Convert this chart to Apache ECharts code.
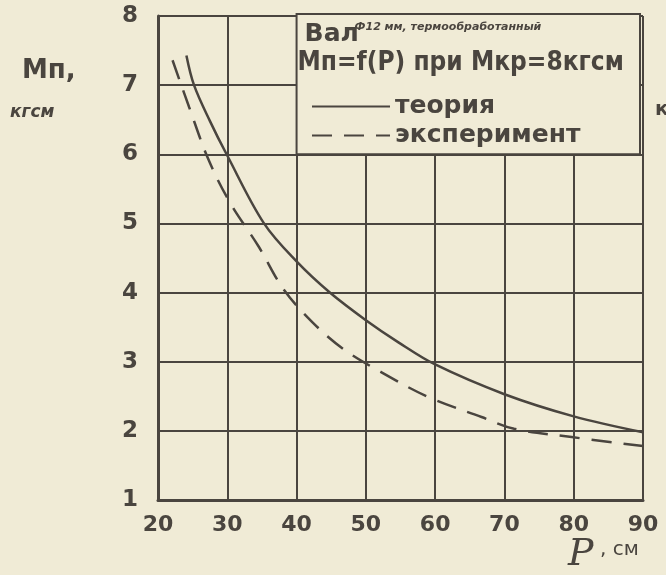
<!DOCTYPE html>
<html>
<head>
<meta charset="utf-8">
<script src="https://cdn.jsdelivr.net/npm/echarts@6/dist/echarts.min.js"></script>
<style>
  html, body { margin: 0; background: #f0ebd6; }
  #chart { width: 666px; height: 575px; }
</style>
</head>
<body>
<div id="chart"></div>
<script>
// значения
const xTicks = [20, 30, 40, 50, 60, 70, 80, 90];
const yTicks = [1, 2, 3, 4, 5, 6, 7, 8];
const theoryP = [24.1, 25.2, 27.5, 29.9, 35.3, 40, 44.8, 50, 54.7, 60, 70, 80, 90];
const theoryM = [7.43, 7.0, 6.48, 6.0, 5.0, 4.45, 4.0, 3.6, 3.28, 2.96, 2.53, 2.21, 1.98];
const expP = [22.1, 24.5, 27.3, 30.4, 34.5, 38.1, 42.3, 46.8, 52.2, 59, 66.7, 71.4, 79.7, 90];
const expM = [7.36, 6.68, 5.92, 5.30, 4.67, 4.05, 3.57, 3.18, 2.85, 2.49, 2.20, 2.03, 1.91, 1.78];

const ink = '#4a453f';
const paper = '#f0ebd6';
const font = 'DejaVu Sans';

var dom = document.getElementById('chart');
var myChart = echarts.init(dom, null, { renderer: 'canvas' });

const option = {
  backgroundColor: paper,
  animation: false,
  color: [ink, ink],
  textStyle: { fontFamily: font, color: ink },
  grid: { left: 158, right: 23, top: 16, bottom: 75 },
  xAxis: {
    type: 'value',
    min: xTicks[0], max: xTicks[xTicks.length - 1], interval: 10,
    axisLine: { lineStyle: { color: ink, width: 3 } },
    axisTick: { show: false },
    axisLabel: { color: ink, fontSize: 22, fontWeight: 'bold', margin: 14 },
    splitLine: { lineStyle: { color: ink, width: 2 } }
  },
  yAxis: {
    type: 'value',
    min: yTicks[0], max: yTicks[yTicks.length - 1], interval: 1,
    axisLine: { show: true, lineStyle: { color: ink, width: 3 } },
    axisTick: { show: false },
    axisLabel: { color: ink, fontSize: 23, fontWeight: 'bold', margin: 20 },
    splitLine: { lineStyle: { color: ink, width: 2 } }
  },
  legend: {
    orient: 'vertical',
    left: 306, top: 89,
    itemWidth: 78, itemHeight: 14, itemGap: 4,
    itemStyle: { opacity: 0 },
    textStyle: { color: ink, fontSize: 25, fontWeight: 'bold', fontFamily: font },
    data: ['теория', 'эксперимент'],
    z: 20
  },
  series: [
    {
      name: 'теория',
      type: 'line',
      smooth: 0.35,
      symbol: 'none',
      data: theoryP.map((p, i) => [p, theoryM[i]]),
      lineStyle: { color: ink, width: 2.5 }
    },
    {
      name: 'эксперимент',
      type: 'line',
      smooth: 0.35,
      symbol: 'none',
      data: expP.map((p, i) => [p, expM[i]]),
      lineStyle: { color: ink, width: 2.5, type: [20, 12] }
    }
  ]
};

myChart.setOption(option);

// рамка с подписью поверх сетки в правом верхнем углу
const tl = myChart.convertToPixel({ gridIndex: 0 }, [40, 8]);
const br = myChart.convertToPixel({ gridIndex: 0 }, [90, 6]);

myChart.setOption({
  graphic: [
    {
      type: 'rect', z: 10,
      shape: { x: tl[0], y: tl[1] - 2, width: br[0] - tl[0] - 3, height: br[1] - tl[1] + 2 },
      style: { fill: paper, stroke: ink, lineWidth: 2 }
    },
    {
      type: 'text', z: 11, left: tl[0] + 8, top: 22,
      style: { text: 'Вал', font: 'bold 25px "DejaVu Sans"', fill: ink }
    },
    {
      type: 'text', z: 11, left: tl[0] + 58, top: 22,
      style: { text: 'Ф12 мм, термообработанный', font: 'italic bold 11px "DejaVu Sans"', fill: ink }
    },
    {
      type: 'text', z: 11, left: tl[0] + 1, top: 50,
      style: { text: 'Мп=f(P) при Мкр=8кгсм', font: 'bold 26px "DejaVu Sans Condensed"', fill: ink }
    },
    {
      type: 'text', left: 22, top: 58,
      style: { text: 'Мп,', font: 'bold 26px "DejaVu Sans"', fill: ink }
    },
    {
      type: 'text', left: 10, top: 104,
      style: { text: 'кгсм', font: 'italic bold 17px "DejaVu Sans"', fill: ink }
    },
    {
      type: 'text', left: 568, top: 536,
      style: { text: 'P', font: 'italic 38px "DejaVu Serif"', fill: ink }
    },
    {
      type: 'text', left: 600, top: 540,
      style: { text: ', см', font: '20px "DejaVu Sans"', fill: ink }
    },
    {
      type: 'text', left: 655, top: 100,
      style: { text: 'к', font: 'bold 20px "DejaVu Sans"', fill: ink }
    }
  ]
});

window.addEventListener('resize', myChart.resize);
</script>
</body>
</html>
